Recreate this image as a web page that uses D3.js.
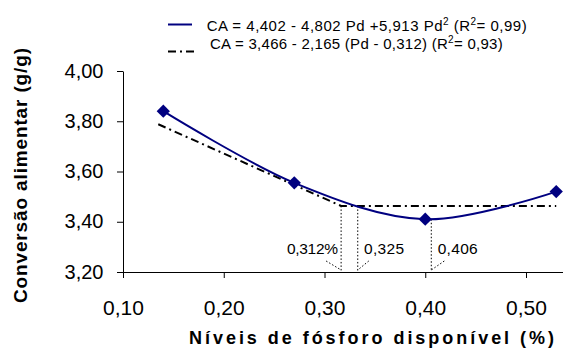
<!DOCTYPE html>
<html>
<head>
<meta charset="utf-8">
<script src="https://cdn.jsdelivr.net/npm/d3@7"></script>
<style>
  html, body { margin: 0; padding: 0; background: #fff; }
  svg { display: block; }
  text { font-family: "Liberation Sans", Arial, sans-serif; fill: #000; }
</style>
</head>
<body>
<div id="chart"></div>
<script>
// ---- data ----
const fosforo = [0.14, 0.27, 0.40, 0.53];            // Pd (%)
const conversao = [3.84, 3.555, 3.41, 3.52];         // CA (g/g)
const lpX = [0.135, 0.3165, 0.53];                   // linear-plateau line
const lpY = [3.788, 3.463, 3.463];
const markX = [0.3165, 0.333, 0.406];                // annotated levels
const markTop = [3.463, 3.463, 3.41];
const markLabels = ["0,312%", "0,325", "0,406"];
const xTicks = [0.10, 0.20, 0.30, 0.40, 0.50];
const yTicks = [3.20, 3.40, 3.60, 3.80, 4.00];
const legendLabels = [
  ["CA = 4,402 - 4,802 Pd +5,913 Pd", "2", " (R", "2", "= 0,99)"],
  ["CA = 3,466 - 2,165 (Pd - 0,312) (R", "2", "= 0,93)"]
];

const W = 563, H = 349;
const svg = d3.select("#chart").append("svg").attr("width", W).attr("height", H);

const x = d3.scaleLinear().domain([0.10, 0.55]).range([123, 123 + 0.45 * 1007.5]);
const y = d3.scaleLinear().domain([3.20, 4.00]).range([272, 71]);
const fmt = v => d3.format(".2f")(v).replace(".", ",");

// axes
const gx = svg.append("g").attr("transform", `translate(0,${y(3.20)})`)
  .call(d3.axisBottom(x).tickValues(xTicks).tickFormat(fmt).tickSize(6).tickSizeOuter(0));
gx.select(".domain").attr("stroke", "#000");
gx.selectAll(".tick line").attr("stroke", "#000");
gx.selectAll(".tick text").attr("y", 43).attr("dy", 0)
  .style("font-size", "21px").style("font-family", "'Liberation Sans', Arial, sans-serif").attr("fill", "#000");

const gy = svg.append("g").attr("transform", `translate(${x(0.10)},0)`)
  .call(d3.axisLeft(y).tickValues(yTicks).tickFormat(fmt).tickSize(6).tickSizeOuter(0));
gy.select(".domain").attr("stroke", "#000");
gy.selectAll(".tick line").attr("stroke", "#000");
gy.selectAll(".tick text").attr("x", -19.5).attr("dy", 0).attr("y", 6)
  .style("font-size", "20px").style("font-family", "'Liberation Sans', Arial, sans-serif").attr("fill", "#000");

// axis titles
svg.append("text").attr("x", 189).attr("y", 344)
  .attr("textLength", 365).attr("lengthAdjust", "spacing")
  .style("font-size", "18px").style("font-weight", "bold")
  .text("Níveis de fósforo disponível (%)");
svg.append("text").attr("transform", "translate(27,303) rotate(-90)")
  .attr("x", 0).attr("y", 0)
  .attr("textLength", 255).attr("lengthAdjust", "spacing")
  .style("font-size", "19px").style("font-weight", "bold")
  .text("Conversão alimentar (g/g)");

// annotation dotted lines
markX.forEach((mx, i) => {
  svg.append("line")
    .attr("x1", x(mx)).attr("x2", x(mx))
    .attr("y1", y(markTop[i])).attr("y2", y(3.20) - 1)
    .attr("stroke", "#000").attr("stroke-width", 1).attr("stroke-dasharray", "1.5,2");
});
// diagonal pointers (label -> foot of dotted line)
const diag = [[-15, -9], [11, -9], [13, -9]];
markX.forEach((mx, i) => {
  svg.append("line")
    .attr("x1", x(mx) + diag[i][0]).attr("y1", y(3.20) - 2 + diag[i][1])
    .attr("x2", x(mx)).attr("y2", y(3.20) - 2)
    .attr("stroke", "#000").attr("stroke-width", 1).attr("stroke-dasharray", "1.5,2");
});
const labelX = [287, 364, 437.7];
markLabels.forEach((t, i) => {
  svg.append("text").attr("x", labelX[i]).attr("y", 254)
    .style("font-size", "15.5px")
    .attr("textLength", t.length > 5 ? 51 : 40).attr("lengthAdjust", "spacing")
    .text(t);
});

// linear-plateau dash-dot line
const lpData = lpX.map((v, i) => [v, lpY[i]]);
svg.append("path").datum(lpData)
  .attr("d", d3.line().x(d => x(d[0])).y(d => y(d[1])))
  .attr("fill", "none").attr("stroke", "#000").attr("stroke-width", 2)
  .attr("stroke-dasharray", "8,4,2,4");

// smoothed data line
const pts = fosforo.map((v, i) => [v, conversao[i]]);
svg.append("path").datum(pts)
  .attr("d", d3.line().x(d => x(d[0])).y(d => y(d[1])).curve(d3.curveCardinal.tension(0)))
  .attr("fill", "none").attr("stroke", "#000080").attr("stroke-width", 2);

// diamond markers
svg.selectAll(".pt").data(pts).enter().append("path")
  .attr("class", "pt")
  .attr("d", d3.symbol().type(d3.symbolSquare).size(88))
  .attr("transform", d => `translate(${x(d[0])},${y(d[1])}) rotate(45)`)
  .attr("fill", "#000080");

// legend
svg.append("line").attr("x1", 168).attr("x2", 192).attr("y1", 24.5).attr("y2", 24.5)
  .attr("stroke", "#000080").attr("stroke-width", 2);
svg.append("line").attr("x1", 168).attr("x2", 196).attr("y1", 51.5).attr("y2", 51.5)
  .attr("stroke", "#000").attr("stroke-width", 2).attr("stroke-dasharray", "8,4,2,4");

function legendText(parts, x0, y0, len) {
  const t = svg.append("text").attr("x", x0).attr("y", y0).style("font-size", "15px")
    .attr("textLength", len).attr("lengthAdjust", "spacing");
  let raised = false;
  parts.forEach(p => {
    if (p === "2") {
      t.append("tspan").attr("dy", -6).style("font-size", "10px").text(p);
      raised = true;
    } else {
      const s = t.append("tspan").text(p);
      if (raised) { s.attr("dy", 6); raised = false; }
    }
  });
}
legendText(legendLabels[0], 206.7, 30.7, 320);
legendText(legendLabels[1], 210, 49, 292.7);
</script>
</body>
</html>
